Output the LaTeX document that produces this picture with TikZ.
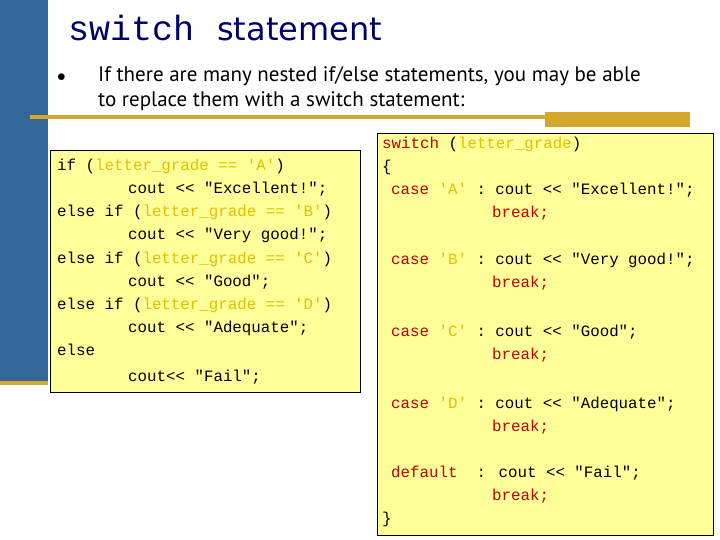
\documentclass[tikz,border=0pt]{standalone}
\usepackage{fontspec}
\setmainfont{Liberation Serif}
\newfontfamily\codefont{Liberation Mono}
\newfontfamily\titlesans{DejaVu Sans}
\newfontfamily\bodysans{PT Sans}
\definecolor{barblue}{HTML}{336699}
\definecolor{gold}{HTML}{D4A82A}
\definecolor{boxfill}{HTML}{FFFF99}
\definecolor{kw}{HTML}{C00000}
\definecolor{str}{HTML}{E0C000}
\definecolor{navy}{HTML}{000066}
\begin{document}
\begin{tikzpicture}[x=1pt,y=-1pt,
  code/.style={anchor=base west,inner sep=0pt,font=\codefont\fontsize{15.8}{15.8}\selectfont},
  codebox/.style={draw=black,fill=boxfill,line width=0.8pt}]
\useasboundingbox (0,0) rectangle (720,540);
\fill[barblue] (0,0) rectangle (48,383);
\fill[gold] (0,381) rectangle (48,385);
\fill[gold] (30,115.5) rectangle (690,119);
\fill[gold] (545,112) rectangle (690,127);
\node[anchor=base west,inner sep=0pt,text=navy] (t1) at (68,41) {\codefont\fontsize{35}{35}\selectfont switch};
\node[anchor=base west,inner sep=0pt,text=navy] (t2) at (217,41) {\titlesans\fontsize{32}{32}\selectfont statement};
\node[anchor=base west,inner sep=0pt] (b0) at (57,82) {\bodysans\fontsize{16}{16}\selectfont $\bullet$};
\node[anchor=base west,inner sep=0pt] (b1) at (98,82) {\bodysans\fontsize{21}{21}\selectfont If there are many nested if/else statements, you may be able};
\node[anchor=base west,inner sep=0pt] (b2) at (98,107) {\bodysans\fontsize{21}{21}\selectfont to replace them with a switch statement:};
\draw[codebox] (50,150) rectangle (360,392);
\draw[codebox] (377,133) rectangle (713,535);
% left
\node[code] (l1) at (57,171) {if (\textcolor{str}{letter\_grade == 'A'})};
\node[code] (l2) at (128,194) {cout << "Excellent!";};
\node[code] (l3) at (57,217) {else if (\textcolor{str}{letter\_grade == 'B'})};
\node[code] (l4) at (128,240) {cout << "Very good!";};
\node[code] (l5) at (57,263) {else if (\textcolor{str}{letter\_grade == 'C'})};
\node[code] (l6) at (128,286) {cout << "Good";};
\node[code] (l7) at (57,309) {else if (\textcolor{str}{letter\_grade == 'D'})};
\node[code] (l8) at (128,332) {cout << "Adequate";};
\node[code] (l9) at (57,355) {else};
\node[code] (l10) at (128,381) {cout<< "Fail";};
% right
\node[code] (r1) at (382,149) {\textcolor{kw}{switch} (\textcolor{str}{letter\_grade})};
\node[code] (r2) at (382,172) {\{};
\node[code] (r3) at (391,195) {\textcolor{kw}{case} \textcolor{str}{'A'} : cout << "Excellent!";};
\node[code,text=kw] (r4) at (492,218) {break;};
\node[code] (r5) at (391,264) {\textcolor{kw}{case} \textcolor{str}{'B'} : cout << "Very good!";};
\node[code,text=kw] (r6) at (492,287) {break;};
\node[code] (r7) at (391,336) {\textcolor{kw}{case} \textcolor{str}{'C'} : cout << "Good";};
\node[code,text=kw] (r8) at (492,359) {break;};
\node[code] (r9) at (391,408) {\textcolor{kw}{case} \textcolor{str}{'D'} : cout << "Adequate";};
\node[code,text=kw] (r10) at (492,431) {break;};
\node[code] (r11) at (391,477) {\textcolor{kw}{default}~~: cout << "Fail";};
\node[code,text=kw] (r12) at (492,500) {break;};
\node[code] (r13) at (382,523) {\}};
\end{tikzpicture}
\end{document}
